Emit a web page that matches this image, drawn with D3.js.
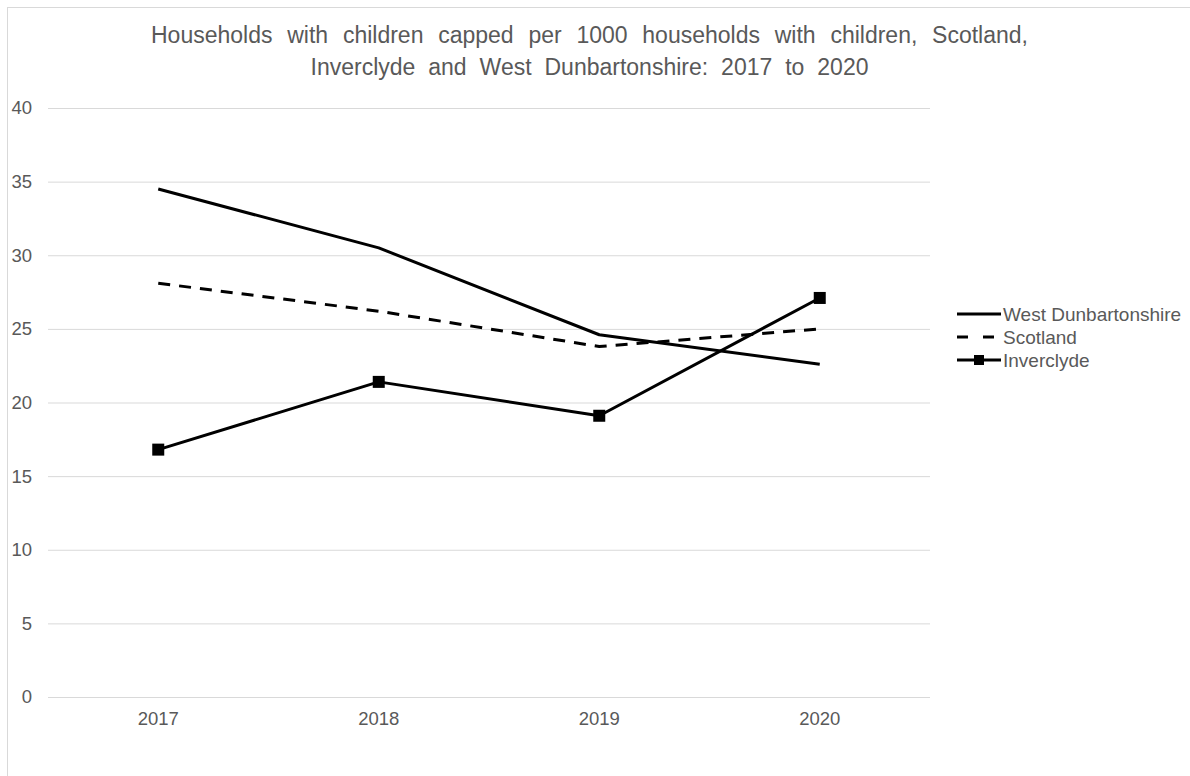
<!DOCTYPE html>
<html>
<head>
<meta charset="utf-8">
<script src="https://cdn.jsdelivr.net/npm/d3@7/dist/d3.min.js"></script>
<style>
  html, body { margin: 0; padding: 0; background: #fff; }
  svg { display: block; font-family: "Liberation Sans", Arial, sans-serif; }
</style>
</head>
<body>
<svg id="chart" width="1190" height="776"></svg>
<script>
const titleLines = ["Households with children capped per 1000 households with children, Scotland,",
                    "Inverclyde and West Dunbartonshire: 2017 to 2020"];
const years = ["2017", "2018", "2019", "2020"];
const yTicks = [0, 5, 10, 15, 20, 25, 30, 35, 40];
const seriesNames = ["West Dunbartonshire", "Scotland", "Inverclyde"];
const westDunbartonshire = [34.5, 30.5, 24.6, 22.6];
const scotland = [28.1, 26.2, 23.8, 25.0];
const inverclyde = [16.8, 21.4, 19.1, 27.1];

const series = [
  { name: seriesNames[0], values: westDunbartonshire, dash: null, marker: false },
  { name: seriesNames[1], values: scotland, dash: "12,9", marker: false },
  { name: seriesNames[2], values: inverclyde, dash: null, marker: true }
];

const svg = d3.select("#chart");
const textColor = "#595959";
const gridColor = "#d9d9d9";
const fontFamily = "Liberation Sans, Arial, sans-serif";

// chart border
svg.append("rect").attr("x", 7.5).attr("y", 7.5).attr("width", 1200).attr("height", 800)
  .attr("fill", "none").attr("stroke", gridColor).attr("stroke-width", 1);

const plot = { left: 48, right: 930, top: 108, bottom: 697 };
const x = d3.scaleBand().domain(years).range([plot.left, plot.right]);
const y = d3.scaleLinear().domain([0, 40]).range([plot.bottom, plot.top]);

// title
const titleWidths = [877, 558];
svg.append("g").selectAll("text").data(titleLines).join("text")
  .attr("x", 589.5).attr("y", (d, i) => 43 + i * 32)
  .attr("text-anchor", "middle").attr("fill", textColor)
  .attr("font-size", 23)
  .text(d => d)
  .each(function(d, i) {
    const w = this.getComputedTextLength();
    const gaps = d.split(" ").length - 1;
    d3.select(this).attr("word-spacing", Math.max(0, (titleWidths[i] - w) / gaps));
  });

// grid
const yAxis = d3.axisLeft(y).tickValues(yTicks).tickSize(-(plot.right - plot.left)).tickPadding(0);
const gy = svg.append("g").attr("transform", `translate(${plot.left},0)`).call(yAxis);
gy.select(".domain").remove();
gy.selectAll(".tick line").attr("stroke", gridColor).attr("stroke-width", 1);
gy.selectAll(".tick text").attr("x", -16).attr("text-anchor", "end")
  .attr("fill", textColor).attr("font-size", 18.5).attr("font-family", fontFamily);

// x axis labels
const xAxis = d3.axisBottom(x).tickSize(0).tickPadding(15);
const gx = svg.append("g").attr("transform", `translate(0,${plot.bottom})`).call(xAxis);
gx.select(".domain").remove();
gx.selectAll(".tick text").attr("fill", textColor).attr("font-size", 18.5)
  .attr("font-family", fontFamily);

// lines
const line = d3.line().x((d, i) => x(years[i]) + x.bandwidth() / 2).y(d => y(d));
const lineG = svg.append("g");
series.forEach(s => {
  lineG.append("path").datum(s.values).attr("d", line)
    .attr("fill", "none").attr("stroke", "#000").attr("stroke-width", 3)
    .attr("stroke-dasharray", s.dash).attr("stroke-linejoin", "round");
  if (s.marker) {
    lineG.selectAll(null).data(s.values).join("rect")
      .attr("x", (d, i) => x(years[i]) + x.bandwidth() / 2 - 6)
      .attr("y", d => y(d) - 6).attr("width", 12).attr("height", 12).attr("fill", "#000");
  }
});

// legend
const legend = svg.append("g").attr("transform", "translate(957,314)");
series.forEach((s, i) => {
  const g = legend.append("g").attr("transform", `translate(0,${i * 23})`);
  g.append("line").attr("x1", 0).attr("x2", 44).attr("y1", 0).attr("y2", 0)
    .attr("stroke", "#000").attr("stroke-width", 3).attr("stroke-dasharray", s.dash ? "11,15" : null);
  if (s.marker) g.append("rect").attr("x", 17).attr("y", -5).attr("width", 10).attr("height", 10).attr("fill", "#000");
  g.append("text").attr("x", 46).attr("y", 6.5).attr("fill", textColor).attr("font-size", 19).text(s.name);
});
</script>
</body>
</html>
